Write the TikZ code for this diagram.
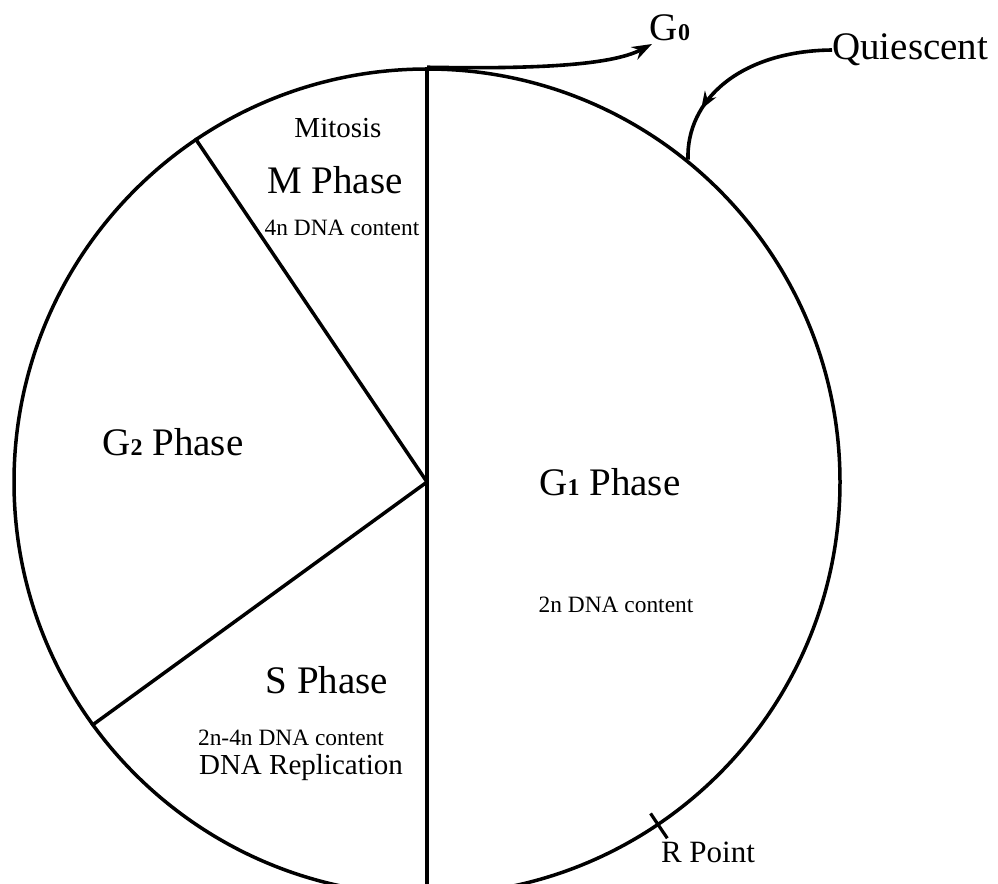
\documentclass[tikz,border=0pt]{standalone}
\usepackage{fontspec}
\setmainfont{Liberation Serif}
\usetikzlibrary{arrows.meta,decorations.markings,calc}
\newcommand{\subd}[1]{{\fontsize{24}{24}\selectfont\bfseries #1}}
\begin{document}
\begin{tikzpicture}[x=1pt,y=-1pt,
  big/.style={font=\fontsize{39}{45}\selectfont, inner sep=0pt},
  mid/.style={font=\fontsize{29}{34}\selectfont, inner sep=0pt},
  small/.style={font=\fontsize{23.4}{28}\selectfont, inner sep=0pt},
  edge/.style={line width=3.5pt, black},
  conn/.style={line width=3.6pt, black}]
\clip (0,0) rectangle (998,883);
\node[circle, draw, line width=3.5pt, minimum size=826pt, inner sep=0pt] (cell) at (427,482) {};
\coordinate (ctr) at (427,482);
\coordinate (top) at (cell.north);
\coordinate (bot) at (427,900);
\coordinate (mg) at (cell.124);
\coordinate (gs) at (cell.216.5);
\coordinate (qp) at (cell.51.3);
\coordinate (rp) at (cell.-56.3);
\draw[line width=4pt] (top) -- (bot);
\draw[edge] (ctr) -- (mg);
\draw[edge] (ctr) -- (gs);
% R point tick
\draw[line width=3.2pt] ($(rp)!-15pt!(ctr)$) -- ($(rp)!15pt!(ctr)$);
% labels
\node[mid] (mit) at (338,128) {Mitosis};
\node[big] (mph) at (335,180) {M Phase};
\node[small] (m4n) at (342,228) {4n DNA content};
\node[big] (g2) at (173,442) {G\subd{2} Phase};
\node[big] (g1) at (610,482) {G\subd{1} Phase};
\node[small] (g12n) at (616,605) {2n DNA content};
\node[big] (sph) at (327,680) {S Phase};
\node[small] (s24) at (291,738) {2n-4n DNA content};
\node[mid] (srep) at (301,768) {DNA Replication};
\node[font=\fontsize{31}{36}\selectfont, inner sep=0pt] (rpt) at (708,852) {R Point};
\node[big] (g0) at (670,28) {G\subd{0}};
\node[big, anchor=west] (qui) at (832,50) {Quiescent};
\coordinate (g0end) at (652,44);
\draw[conn, -{Stealth[length=20pt,width=14pt]}] (top) .. controls (530,69) and (610,66) .. (g0end);
\draw[conn, decoration={markings, mark=at position 0.74 with {\arrow{Stealth[length=18pt,width=13pt]}}}, postaction={decorate}]
  (qui.west) .. controls (740,51) and (686,100) .. (qp);
\end{tikzpicture}
\end{document}
